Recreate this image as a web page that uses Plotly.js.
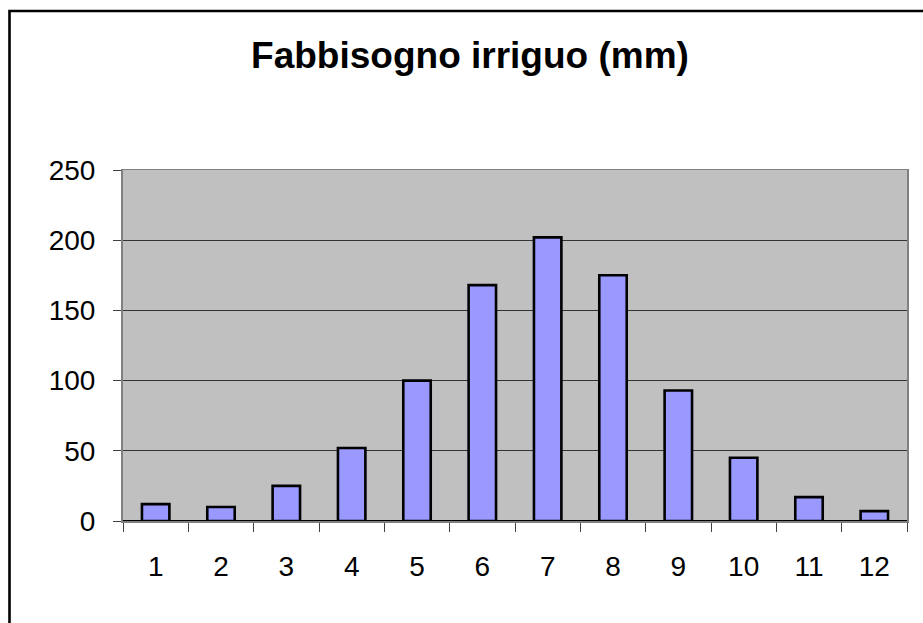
<!DOCTYPE html>
<html>
<head>
<meta charset="utf-8">
<script src="https://cdn.plot.ly/plotly-3.0.1.min.js"></script>
<style>html,body{margin:0;padding:0;background:#fff;}#chart{width:923px;height:623px;}</style>
</head>
<body>
<div id="chart"></div>
<script>
const months = ["1","2","3","4","5","6","7","8","9","10","11","12"];
const fabbisogno = [12, 10, 25, 52, 100, 168, 202, 175, 93, 45, 17, 7];
const yTicks = [0, 50, 100, 150, 200, 250];
const chartTitle = "Fabbisogno irriguo (mm)";

const FONT = "Liberation Sans, Arial, sans-serif";
const L = 123, R = 16, T = 170, B = 102, W = 923, H = 623;
const pw = W - L - R, ph = H - T - B;
const px = v => (v - L) / pw;
const py = v => (H - B - v) / ph;

const trace = {
  type: "bar",
  x: months,
  y: fabbisogno,
  width: 0.42,
  marker: { color: "#9999FF", line: { color: "#000000", width: 2.6 } },
  hoverinfo: "x+y"
};

const layout = {
  width: W, height: H,
  margin: { l: L, r: R, t: T, b: B, pad: 0 },
  paper_bgcolor: "#ffffff",
  plot_bgcolor: "#C0C0C0",
  showlegend: false,
  font: { family: FONT, color: "#000" },
  title: {
    text: "<b>" + chartTitle + "</b>",
    font: { family: FONT, size: 37, color: "#000" },
    xref: "container", yref: "container",
    x: 470 / W, xanchor: "center",
    y: 1 - 55 / H, yanchor: "middle"
  },
  xaxis: {
    type: "category",
    tickson: "boundaries",
    ticks: "outside", ticklen: 9, tickcolor: "#404040", tickwidth: 1,
    tickfont: { family: FONT, size: 28, color: "#000" },
    ticklabelstandoff: 20,
    showline: true, linecolor: "#808080", linewidth: 1.5, mirror: true,
    showgrid: false, zeroline: false, fixedrange: true
  },
  yaxis: {
    range: [0, 250],
    tickvals: yTicks,
    ticktext: yTicks.map(String),
    ticks: "outside", ticklen: 8, tickcolor: "#404040", tickwidth: 1,
    tickfont: { family: FONT, size: 28, color: "#000" },
    ticklabelstandoff: 12,
    showline: true, linecolor: "#808080", linewidth: 2, mirror: true,
    showgrid: true, gridcolor: "#333333", gridwidth: 1,
    zeroline: true, zerolinecolor: "#000000", zerolinewidth: 1.5,
    fixedrange: true
  },
  shapes: [{
    type: "rect", xref: "paper", yref: "paper", layer: "below",
    x0: px(9.5), x1: px(935), y0: py(640), y1: py(11),
    line: { color: "#000", width: 2.6 }, fillcolor: "rgba(0,0,0,0)"
  }]
};

Plotly.newPlot("chart", [trace], layout, { displayModeBar: false, staticPlot: true });
</script>
</body>
</html>
